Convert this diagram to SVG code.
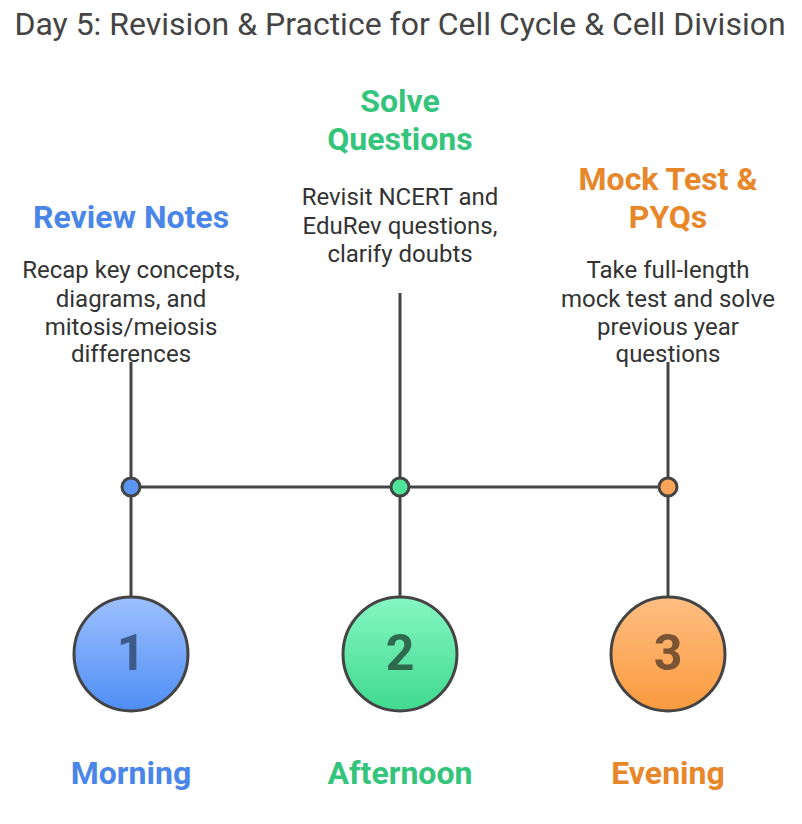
<svg xmlns="http://www.w3.org/2000/svg" width="802" height="824" viewBox="0 0 802 824">
<defs>
<linearGradient id="gb" x1="0" y1="0" x2="0" y2="1"><stop offset="0" stop-color="#9dc0ff"/><stop offset="1" stop-color="#4f8ef5"/></linearGradient>
<linearGradient id="gg" x1="0" y1="0" x2="0" y2="1"><stop offset="0" stop-color="#86f7c3"/><stop offset="1" stop-color="#3fd98e"/></linearGradient>
<linearGradient id="go" x1="0" y1="0" x2="0" y2="1"><stop offset="0" stop-color="#ffbe82"/><stop offset="1" stop-color="#fa9a3e"/></linearGradient>
<style>
text{font-family:Roboto,"Liberation Sans",sans-serif;text-anchor:middle}
.title{font-size:32px;fill:#444}
.head{font-size:32px;font-weight:bold}
.desc{font-size:24px;fill:#333}
.num{font-size:50px;font-weight:bold}
.ln{stroke:#444;stroke-width:3;fill:none}
.circ{stroke:#444;stroke-width:3}
.blue{fill:#4a86e8}.green{fill:#34c47c}.orange{fill:#e8862a}
</style>
</defs>
<text class="title" x="400" y="35">Day 5: Revision &amp; Practice for Cell Cycle &amp; Cell Division</text>
<g id="connectors">
<line class="ln" x1="131" y1="487" x2="668" y2="487"/>
<line class="ln" x1="131" y1="362" x2="131" y2="597"/>
<line class="ln" x1="400" y1="293" x2="400" y2="597"/>
<line class="ln" x1="668" y1="362" x2="668" y2="597"/>
</g>
<g id="morning">
<text class="head blue" x="131" y="228">Review Notes</text>
<text class="desc" x="131" y="278">Recap key concepts,</text>
<text class="desc" x="131" y="306.5">diagrams, and</text>
<text class="desc" x="131" y="335">mitosis/meiosis</text>
<text class="desc" x="131" y="362">differences</text>
<circle class="circ" cx="131" cy="487" r="9" fill="#5b95f2"/>
<circle class="circ" cx="131" cy="654" r="57" fill="url(#gb)"/>
<text class="num" x="131" y="670" fill="#3d5a8a">1</text>
<text class="head blue" x="131" y="784">Morning</text>
</g>
<g id="afternoon">
<text class="head green" x="400" y="112">Solve</text>
<text class="head green" x="400" y="150">Questions</text>
<text class="desc" x="400" y="205">Revisit NCERT and</text>
<text class="desc" x="400" y="233.5">EduRev questions,</text>
<text class="desc" x="400" y="262">clarify doubts</text>
<circle class="circ" cx="400" cy="487" r="9" fill="#4fe39a"/>
<circle class="circ" cx="400" cy="654" r="57" fill="url(#gg)"/>
<text class="num" x="400" y="670" fill="#2f6a4c">2</text>
<text class="head green" x="400" y="784">Afternoon</text>
</g>
<g id="evening">
<text class="head orange" x="668" y="190">Mock Test &amp;</text>
<text class="head orange" x="668" y="228">PYQs</text>
<text class="desc" x="668" y="278">Take full-length</text>
<text class="desc" x="668" y="306.5">mock test and solve</text>
<text class="desc" x="668" y="335">previous year</text>
<text class="desc" x="668" y="362">questions</text>
<circle class="circ" cx="668" cy="487" r="9" fill="#fba458"/>
<circle class="circ" cx="668" cy="654" r="57" fill="url(#go)"/>
<text class="num" x="668" y="670" fill="#7a5433">3</text>
<text class="head orange" x="668" y="784">Evening</text>
</g>
</svg>
